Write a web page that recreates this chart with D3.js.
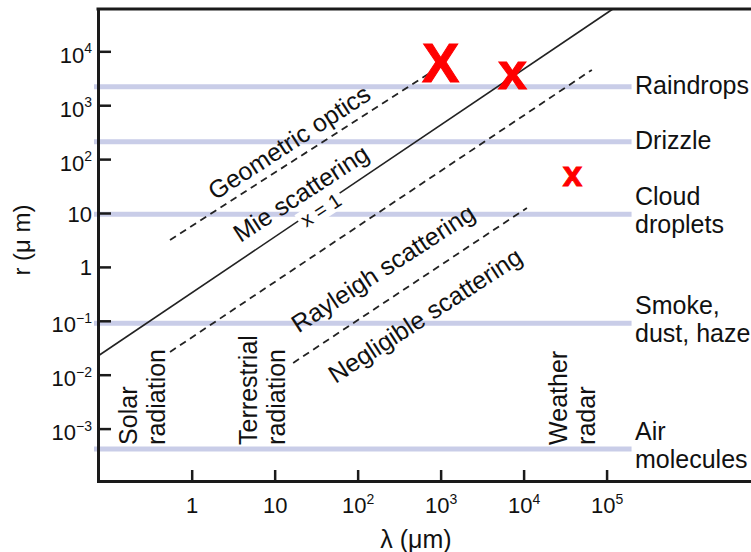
<!DOCTYPE html>
<html><head><meta charset="utf-8">
<script src="https://cdn.jsdelivr.net/npm/d3@7"></script>
<style>
html,body{margin:0;padding:0;background:#fff;}
svg{display:block;font-family:"Liberation Sans",Arial,Helvetica,sans-serif;}
</style>
</head><body>
<svg id="chart" width="751" height="552"></svg>
<script>
// ---------------- data ----------------
const xTickExponents = [0, 1, 2, 3, 4, 5];            // λ ticks: 1 ... 10^5 µm
const yTickExponents = [-3, -2, -1, 0, 1, 2, 3, 4];   // r ticks: 10^-3 ... 10^4 µm
const lambdaDomain = [0.0743, 5.5e6];
const rDomain = [1.066e-4, 6.095e4];

const bandLabels = [["Raindrops"], ["Drizzle"], ["Cloud", "droplets"], ["Smoke,", "dust, haze"], ["Air", "molecules"]];
const bandRadius = [2200, 210, 9.5, 0.09, 4.2e-4];
const bandEndLambda = 2.0e5;

// regime boundary lines, [λ, r] end points
const geometricLimit = [[0.548, 3.16], [743, 3955]];
const mieLimit = [[0.0743, 0.0222], [119000, 60950]];      // x = 1 (solid)
const rayleighLimit = [[0.548, 0.0264], [66500, 4520]];
const negligibleLimit = [[16.7, 0.0165], [10960, 12.4]];

const regimeLabels = ["Geometric optics", "Mie scattering", "x = 1", "Rayleigh scattering", "Negligible scattering"];
const regimeLabelLambda = [14.9, 20.7, 36, 201, 646];
const regimeLabelR = [207, 23.5, 11.4, 0.955, 0.128];

const regionLabels = [["Solar", "radiation"], ["Terrestrial", "radiation"], ["Weather", "radar"]];
const regionLabelLambda = [0.22, 6.1, 33200];

const markGlyph = ["X", "x", "x"];
const markLambda = [1000, 7330, 38700];
const markR = [6340, 3560, 47.6];

// ---------------- layout / style ----------------
const W = 751, H = 552;
const plot = {left: 98, right: 751, top: 9, bottom: 481};
const ink = "#1a1a1a";
const bandColor = "#c9cde8";
const markSize = [56, 52, 35];

const svg = d3.select("#chart");
const x = d3.scaleLog().domain(lambdaDomain).range([plot.left, plot.right]);
const y = d3.scaleLog().domain(rDomain).range([plot.bottom, plot.top]);

function supLabel(t, e) {
  if (e === 0) { t.text("1"); return; }
  if (e === 1) { t.text("10"); return; }
  t.append("tspan").text("10");
  t.append("tspan").attr("font-size", 14).attr("dy", -9.5).text(e < 0 ? "\u2212" + (-e) : String(e));
}

// bands
svg.append("g").selectAll("line").data(bandRadius).join("line")
  .attr("x1", plot.left - 4).attr("x2", x(bandEndLambda))
  .attr("y1", d => y(d)).attr("y2", d => y(d))
  .attr("stroke", bandColor).attr("stroke-width", 5);

// band labels
bandLabels.forEach((lines, i) => {
  const yb = y(bandRadius[i]);
  const t = svg.append("text").attr("x", 635).attr("font-size", 25).attr("fill", "#111");
  if (lines.length === 1) {
    t.attr("y", yb + 7).text(lines[0]);
  } else {
    t.append("tspan").attr("x", 635).attr("y", yb - 9).text(lines[0]);
    t.append("tspan").attr("x", 635).attr("y", yb + 19).text(lines[1]);
  }
});

// regime lines
const lineGen = d3.line().x(d => x(d[0])).y(d => y(d[1]));
[[geometricLimit, true], [mieLimit, false], [rayleighLimit, true], [negligibleLimit, true]].forEach(([pts, dashed]) => {
  svg.append("path").attr("d", lineGen(pts)).attr("fill", "none")
    .attr("stroke", "#222").attr("stroke-width", dashed ? 1.8 : 1.6)
    .attr("stroke-dasharray", dashed ? "7,5" : null);
});

// diagonal labels
const angle = Math.atan2(y(10) - y(1), x(10) - x(1)) * 180 / Math.PI;
regimeLabels.forEach((lab, i) => {
  const g = svg.append("g")
    .attr("transform", `translate(${x(regimeLabelLambda[i])},${y(regimeLabelR[i])}) rotate(${angle})`);
  const t = g.append("text").attr("text-anchor", "middle").attr("dominant-baseline", "central")
    .attr("font-size", lab === "x = 1" ? 20 : 25).attr("fill", "#111").text(lab);
  if (lab === "x = 1") {
    const b = t.node().getBBox();
    g.insert("rect", "text").attr("x", b.x - 3).attr("y", b.y + 1).attr("width", b.width + 6)
      .attr("height", b.height - 2).attr("fill", "#fff");
  }
});

// vertical region labels
regionLabels.forEach((lines, i) => {
  const x0 = x(regionLabelLambda[i]);
  const yb = y(bandRadius[4]) - 4;
  lines.forEach((s, j) => {
    svg.append("text").attr("transform", `translate(${x0 + j * 28},${yb}) rotate(-90)`)
      .attr("font-size", 25).attr("fill", "#111").text(s);
  });
});

// red marks
svg.append("g").selectAll("text").data(markGlyph).join("text")
  .attr("x", (d, i) => x(markLambda[i])).attr("y", (d, i) => y(markR[i]))
  .attr("dy", d => d === "X" ? "0.358em" : "0.26em")
  .attr("text-anchor", "middle").attr("font-weight", "bold")
  .attr("font-size", (d, i) => markSize[i]).attr("fill", "#ff0000")
  .attr("stroke", "#ff0000").attr("stroke-width", 1)
  .text(d => d);

// axes
const gx = svg.append("g").attr("transform", `translate(0,${plot.bottom})`)
  .call(d3.axisBottom(x).tickValues(xTickExponents.map(e => Math.pow(10, e)))
    .tickSizeInner(-11).tickSizeOuter(0).tickFormat(() => ""));
gx.attr("font-family", null).attr("font-size", null);
gx.select(".domain").attr("stroke", ink).attr("stroke-width", 3).attr("stroke-linecap", "square");
gx.selectAll(".tick line").attr("stroke", ink).attr("stroke-width", 2.5);
gx.selectAll(".tick text").remove();
gx.selectAll(".tick").each(function(d, i) {
  const t = d3.select(this).append("text").attr("y", 32).attr("text-anchor", "middle")
    .attr("font-size", 22).attr("fill", "#111");
  supLabel(t, xTickExponents[i]);
});

const gy = svg.append("g").attr("transform", `translate(${plot.left},0)`)
  .call(d3.axisLeft(y).tickValues(yTickExponents.map(e => Math.pow(10, e)))
    .tickSizeInner(-13).tickSizeOuter(0).tickFormat(() => ""));
gy.attr("font-family", null).attr("font-size", null);
gy.select(".domain").attr("stroke", ink).attr("stroke-width", 3).attr("stroke-linecap", "square");
gy.selectAll(".tick line").attr("stroke", ink).attr("stroke-width", 2.5);
gy.selectAll(".tick text").remove();
gy.selectAll(".tick").each(function(d, i) {
  const e = yTickExponents[i];
  const t = d3.select(this).append("text").attr("x", -6).attr("y", (e === 0 || e === 1) ? 8 : 11)
    .attr("text-anchor", "end").attr("font-size", 22).attr("fill", "#111");
  supLabel(t, e);
});

// top border
svg.append("line").attr("x1", plot.left).attr("x2", plot.right)
  .attr("y1", plot.top).attr("y2", plot.top)
  .attr("stroke", ink).attr("stroke-width", 3).attr("stroke-linecap", "square");

// axis titles
svg.append("text").attr("x", 416).attr("y", 548).attr("text-anchor", "middle")
  .attr("font-size", 25).attr("fill", "#111").text("λ (μm)");
svg.append("text").attr("transform", "translate(30,240) rotate(-90)").attr("text-anchor", "middle")
  .attr("font-size", 24).attr("fill", "#111").text("r (μ m)");
</script>
</body></html>
